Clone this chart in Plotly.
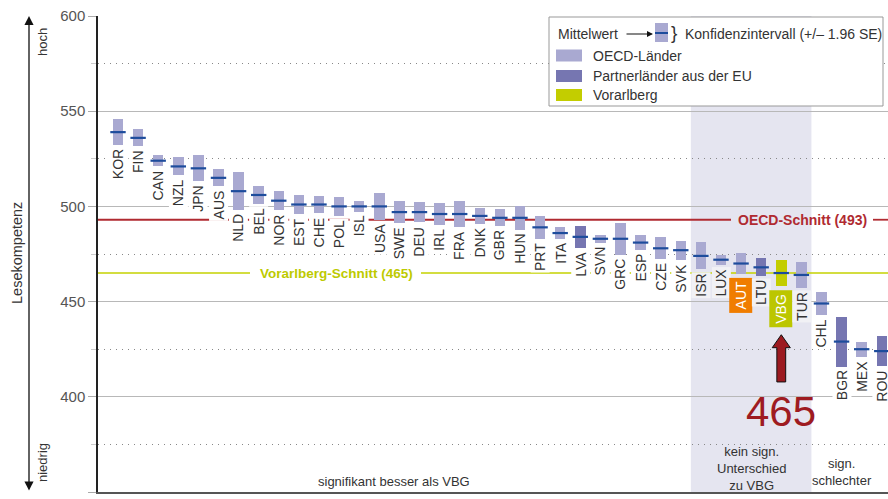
import plotly.graph_objects as go

# ---------------- data ----------------
countries = ["KOR", "FIN", "CAN", "NZL", "JPN", "AUS", "NLD", "BEL", "NOR", "EST",
             "CHE", "POL", "ISL", "USA", "SWE", "DEU", "IRL", "FRA", "DNK", "GBR",
             "HUN", "PRT", "ITA", "LVA", "SVN", "GRC", "ESP", "CZE", "SVK", "ISR",
             "LUX", "AUT", "LTU", "VBG", "TUR", "CHL", "BGR", "MEX", "ROU"]
means = [539, 536, 524, 521, 520, 515, 508, 506, 503, 501,
         501, 500, 500, 500, 497, 497, 496, 496, 495, 494,
         494, 489, 486, 484, 483, 483, 481, 478, 477, 474,
         472, 470, 468, 465, 464, 449, 429, 425, 424]
se = [3.5, 2.3, 1.5, 2.4, 3.5, 2.3, 5.1, 2.3, 2.6, 2.6,
      2.4, 2.6, 1.4, 3.7, 2.9, 2.7, 3.0, 3.4, 2.1, 2.3,
      3.2, 3.1, 1.6, 3.0, 1.0, 4.3, 2.0, 2.9, 2.5, 3.6,
      1.3, 2.9, 2.4, 3.6, 3.5, 3.1, 6.7, 2.0, 4.1]
groups = ["OECD"] * 23 + ["EU"] + ["OECD"] * 8 + ["EU", "VBG", "OECD", "OECD", "EU", "OECD", "EU"]
oecd_mean = 493
vbg_mean = 465
y_ticks = [350, 400, 450, 500, 550, 600]
y_minor = [375, 425, 475, 525, 575]

# ---------------- styles ----------------
COL = {"OECD": "#a9a9d1", "EU": "#7676b1", "VBG": "#c3cd00"}
MEAN_COL = "#1d4c9c"
RED = "#b02a31"
YEL = "#c5d200"
TXT = "#333333"
FONT = "Liberation Sans, Arial, sans-serif"

W, H = 888, 499
L, R, T, B = 98, 0, 16, 7
X_LEFT, X_RIGHT = -0.995, 38.31


def px(p):   # pixel x -> paper
    return (p - L) / (W - L - R)


def py(p):   # pixel y -> paper
    return (H - B - p) / (H - T - B)


def ix(p):   # pixel x -> data index
    return X_LEFT + (p - L) / (W - L - R) * (X_RIGHT - X_LEFT)


idx = list(range(len(countries)))
ci = [1.96 * s for s in se]
lower = [m - c for m, c in zip(means, ci)]
i_vbg = countries.index("VBG")
i_isr = countries.index("ISR")
i_tur = countries.index("TUR")

fig = go.Figure()
fig.add_trace(go.Bar(x=idx, base=lower, y=[2 * c for c in ci], width=0.52,
                     marker=dict(color=[COL[g] for g in groups], line=dict(width=0)),
                     hoverinfo="skip"))
fig.add_trace(go.Scatter(x=idx, y=means, mode="markers",
                         marker=dict(symbol="line-ew", size=11,
                                     line=dict(width=2.2, color=MEAN_COL)),
                         hoverinfo="skip"))

shapes = []
shapes.append(dict(type="rect", xref="x", yref="paper", x0=i_isr - 0.5, x1=i_tur + 0.5,
                   y0=0, y1=1, fillcolor="#e5e5f0", line=dict(width=0), layer="below"))
shapes.append(dict(type="line", xref="x", yref="y", x0=X_LEFT, x1=ix(731), y0=oecd_mean, y1=oecd_mean,
                   line=dict(color=RED, width=1.8), layer="between"))
shapes.append(dict(type="line", xref="x", yref="y", x0=ix(873), x1=X_RIGHT, y0=oecd_mean, y1=oecd_mean,
                   line=dict(color=RED, width=1.8), layer="between"))
shapes.append(dict(type="line", xref="x", yref="y", x0=X_LEFT, x1=ix(250), y0=vbg_mean, y1=vbg_mean,
                   line=dict(color=YEL, width=1.6), layer="between"))
shapes.append(dict(type="line", xref="x", yref="y", x0=ix(421), x1=X_RIGHT, y0=vbg_mean, y1=vbg_mean,
                   line=dict(color=YEL, width=1.6), layer="between"))
xa = i_vbg
path = (f"M {xa-0.22},407.8 L {xa-0.22},425.8 L {xa-0.45},425.8 L {xa},432.6 "
        f"L {xa+0.45},425.8 L {xa+0.22},425.8 L {xa+0.22},407.8 Z")
shapes.append(dict(type="path", xref="x", yref="y", path=path, fillcolor="#9c1a20",
                   line=dict(color="#111", width=1), layer="above"))
shapes.append(dict(type="rect", xref="paper", yref="paper", x0=px(549), x1=px(883), y0=py(106), y1=py(17),
                   fillcolor="white", line=dict(color="#999", width=1), layer="above"))
shapes.append(dict(type="rect", xref="paper", yref="paper", x0=px(655), x1=px(668), y0=py(42), y1=py(23),
                   fillcolor=COL["OECD"], line=dict(width=0), layer="above"))
shapes.append(dict(type="line", xref="paper", yref="paper", x0=px(655), x1=px(668), y0=py(33), y1=py(33),
                   line=dict(color=MEAN_COL, width=2), layer="above"))
for yc, key in [(55.5, "OECD"), (76, "EU"), (95, "VBG")]:
    shapes.append(dict(type="rect", xref="paper", yref="paper", x0=px(556), x1=px(582),
                       y0=py(yc + 6), y1=py(yc - 6), fillcolor=COL[key], line=dict(width=0), layer="above"))

ann = []
for i, c in enumerate(countries):
    inside = i_isr <= i <= i_tur
    if c == "AUT":
        ann.append(dict(x=i, y=lower[i], xref="x", yref="y", text="AUT", textangle=-90,
                        xanchor="center", yanchor="top", yshift=-3, showarrow=False,
                        bgcolor="#f07d00", borderpad=3, font=dict(size=14, color="white", family=FONT)))
    elif c == "VBG":
        ann.append(dict(x=i, y=lower[i], xref="x", yref="y", text="VBG", textangle=-90,
                        xanchor="center", yanchor="top", yshift=-3, showarrow=False,
                        bgcolor="#bcc600", borderpad=3, font=dict(size=14, color="white", family=FONT)))
    else:
        ann.append(dict(x=i, y=lower[i], xref="x", yref="y", text=c, textangle=-90,
                        xanchor="center", yanchor="top", yshift=-2, showarrow=False,
                        bgcolor="#f1f1f5" if inside else "white", borderpad=1,
                        font=dict(size=14, color=TXT, family=FONT)))

ann.append(dict(x=ix(802), y=oecd_mean, xref="x", yref="y", text="<b>OECD-Schnitt (493)</b>",
                showarrow=False, xanchor="center", yanchor="middle",
                font=dict(size=14, color=RED, family=FONT)))
ann.append(dict(x=ix(336), y=vbg_mean, xref="x", yref="y", text="<b>Vorarlberg-Schnitt (465)</b>",
                showarrow=False, xanchor="center", yanchor="middle",
                font=dict(size=13.5, color="#bdca00", family=FONT)))
ann.append(dict(x=i_vbg, y=392.2, xref="x", yref="y", text=str(vbg_mean), showarrow=False,
                xanchor="center", yanchor="middle", font=dict(size=42, color="#9e1b21", family=FONT)))
ann.append(dict(x=(X_LEFT + i_isr - 0.5) / 2, y=py(481), xref="x", yref="paper",
                text="signifikant besser als VBG", showarrow=False, xanchor="center", yanchor="middle",
                font=dict(size=13, color=TXT, family=FONT)))
ann.append(dict(x=(i_isr + i_tur) / 2, y=py(468.5), xref="x", yref="paper",
                text="kein sign.<br>Unterschied<br>zu VBG", showarrow=False, xanchor="center", yanchor="middle",
                font=dict(size=13, color=TXT, family=FONT)))
ann.append(dict(x=i_tur + 2.0, y=py(471.5), xref="x", yref="paper",
                text="sign.<br>schlechter", showarrow=False, xanchor="center", yanchor="middle",
                font=dict(size=13, color=TXT, family=FONT)))
ann.append(dict(x=px(17), y=py(253), xref="paper", yref="paper", text="Lesekompetenz", textangle=-90,
                showarrow=False, xanchor="center", yanchor="middle",
                font=dict(size=14.5, color=TXT, family=FONT)))
ann.append(dict(x=px(42), y=py(42), xref="paper", yref="paper", text="hoch", textangle=-90,
                showarrow=False, xanchor="center", yanchor="middle",
                font=dict(size=13, color=TXT, family=FONT)))
ann.append(dict(x=px(42), y=py(463), xref="paper", yref="paper", text="niedrig", textangle=-90,
                showarrow=False, xanchor="center", yanchor="middle",
                font=dict(size=13, color=TXT, family=FONT)))
ann.append(dict(x=px(29), y=py(16), xref="paper", yref="paper", ax=0, ay=476, text="",
                showarrow=True, arrowside="end+start", arrowhead=2, startarrowhead=2,
                arrowsize=1.4, startarrowsize=1.4, arrowwidth=1.3, arrowcolor="#111"))
ann.append(dict(x=px(556), y=py(34), xref="paper", yref="paper", text="Mittelwert", showarrow=False,
                xanchor="left", yanchor="middle", font=dict(size=14, color=TXT, family=FONT)))
ann.append(dict(x=px(653), y=py(34), xref="paper", yref="paper", ax=-28, ay=0, text="",
                showarrow=True, arrowhead=2, arrowsize=1, arrowwidth=1.2, arrowcolor="#111"))
ann.append(dict(x=px(674), y=py(33), xref="paper", yref="paper", text="}", showarrow=False,
                xanchor="center", yanchor="middle", font=dict(size=19, color=TXT, family=FONT)))
ann.append(dict(x=px(683), y=py(34), xref="paper", yref="paper", text="Konfidenzintervall (+/– 1.96 SE)",
                showarrow=False, xanchor="left", yanchor="middle", font=dict(size=14, color=TXT, family=FONT)))
for yc, t in [(55.5, "OECD-Länder"), (76, "Partnerländer aus der EU"), (95, "Vorarlberg")]:
    ann.append(dict(x=px(591), y=py(yc), xref="paper", yref="paper", text=t, showarrow=False,
                    xanchor="left", yanchor="middle", font=dict(size=14, color=TXT, family=FONT)))

fig.update_layout(
    width=W, height=H, margin=dict(l=L, r=R, t=T, b=B),
    paper_bgcolor="white", plot_bgcolor="white", showlegend=False,
    shapes=shapes, annotations=ann, bargap=0,
    xaxis=dict(range=[X_LEFT, X_RIGHT], showgrid=False, zeroline=False, showticklabels=False,
               ticks="", showline=True, linecolor="#555", linewidth=1.5, fixedrange=True),
    yaxis=dict(range=[350, 600], tickvals=y_ticks, showgrid=True, gridcolor="#b8b8b8", gridwidth=1,
               zeroline=False, showline=True, linecolor="#222", linewidth=1.5,
               ticks="outside", ticklen=8, tickcolor="#aaa", tickwidth=1,
               tickfont=dict(size=15, color="#555", family=FONT),
               minor=dict(tickvals=y_minor, showgrid=True, griddash="1px,5px",
                          gridcolor="#888", gridwidth=1, ticks="outside", ticklen=5, tickcolor="#ccc"),
               fixedrange=True),
)

fig.write_html("out.html", config={"displayModeBar": False},
               post_script="document.body.style.margin='0';document.body.style.overflow='hidden';")
